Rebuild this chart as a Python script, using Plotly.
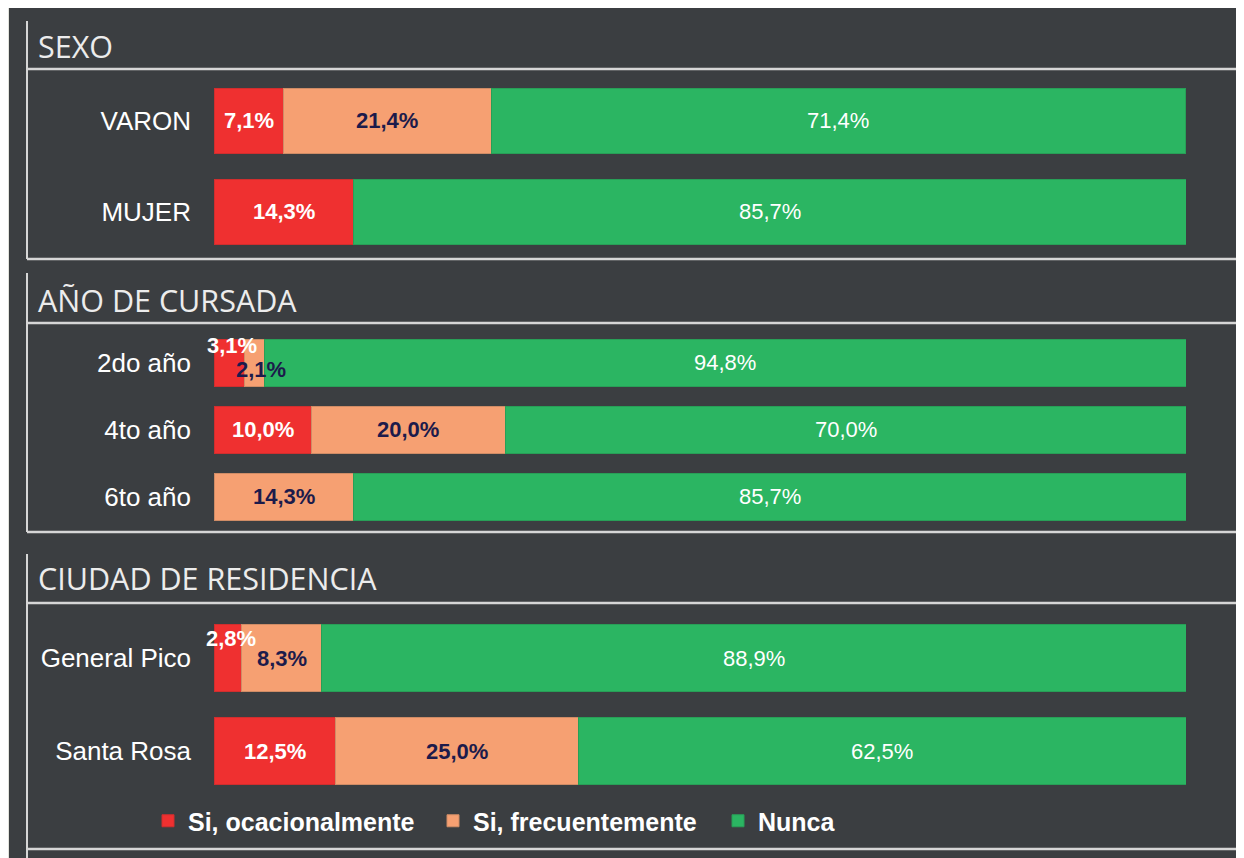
import plotly.graph_objects as go

# ---------------- data ----------------
section_titles = ["SEXO", "AÑO DE CURSADA", "CIUDAD DE RESIDENCIA"]
series_names = ["Si, ocacionalmente", "Si, frecuentemente", "Nunca"]

cat_sexo = ["VARON", "MUJER"]
ocasional_sexo = [7.1, 14.3]
frecuente_sexo = [21.4, 0.0]
nunca_sexo = [71.4, 85.7]

cat_anio = ["2do año", "4to año", "6to año"]
ocasional_anio = [3.1, 10.0, 0.0]
frecuente_anio = [2.1, 20.0, 14.3]
nunca_anio = [94.8, 70.0, 85.7]

cat_ciudad = ["General Pico", "Santa Rosa"]
ocasional_ciudad = [2.8, 12.5]
frecuente_ciudad = [8.3, 25.0]
nunca_ciudad = [88.9, 62.5]

# ---------------- style ----------------
PAGE_W, PAGE_H = 1244, 858
OFF = 8                      # default page body margin
FW, FH = PAGE_W - OFF, PAGE_H - OFF
BG = "#3b3e41"
LIGHT = "#e2e3dc"
LINE = "#d6d6d6"
colors = ["#ef3030", "#f6a072", "#2bb562"]
edge_colors = ["#d02e2e", "#cf8c66", "#289f57"]
label_colors = ["#ffffff", "#1c1b4b", "#ffffff"]
label_weights = ["bold", "bold", "normal"]

X0, X1 = 214, 1186  # page-pixel extent of 0..100 %
sec_layout = [
    dict(top=75.5, bottom=257.5, width=0.725, title_y=46.5),
    dict(top=329.5, bottom=530.5, width=0.69, title_y=299.5),
    dict(top=611.5, bottom=797.5, width=0.71, title_y=578),
]
# label nudges (pixels) for tiny segments: (section, row, series) -> (xshift, yshift)
nudges = {
    (1, 0, 0): (3, 17),
    (1, 0, 1): (7, -7),
    (2, 0, 0): (3, 20),
}

def px_x(p):
    return (p - OFF) / FW

def px_y(p):
    return 1 - (p - OFF) / FH

def fmt(v):
    return f"{v:.1f}".replace(".", ",") + "%"

sections = [
    (cat_sexo, [ocasional_sexo, frecuente_sexo, nunca_sexo]),
    (cat_anio, [ocasional_anio, frecuente_anio, nunca_anio]),
    (cat_ciudad, [ocasional_ciudad, frecuente_ciudad, nunca_ciudad]),
]

fig = go.Figure()
annotations = []

for si, (cats, vals) in enumerate(sections):
    xa = "x" if si == 0 else f"x{si + 1}"
    ya = "y" if si == 0 else f"y{si + 1}"
    lay = sec_layout[si]
    for k, name in enumerate(series_names):
        fig.add_trace(go.Bar(
            y=cats, x=vals[k], name=name, orientation="h",
            marker=dict(color=colors[k], line=dict(width=1, color=edge_colors[k])),
            width=lay["width"], xaxis=xa, yaxis=ya,
            showlegend=(si == 0), legendgroup=name, hoverinfo="skip",
        ))
    for r, c in enumerate(cats):
        cum = 0.0
        for k in range(3):
            v = vals[k][r]
            if v > 0:
                xs, ys = nudges.get((si, r, k), (0, 0))
                annotations.append(dict(
                    x=cum + v / 2, y=c, xref=xa, yref=ya, text=fmt(v),
                    showarrow=False, xanchor="center", yanchor="middle",
                    xshift=xs, yshift=ys,
                    font=dict(family="Liberation Sans, Arial, sans-serif", size=22,
                              color=label_colors[k], weight=label_weights[k]),
                ))
            cum += v
    n = len(cats)
    fig.update_layout(**{
        ("xaxis" if si == 0 else f"xaxis{si + 1}"): dict(
            domain=[px_x(X0), px_x(X1)], range=[0, 100], visible=False,
            anchor=ya, fixedrange=True),
        ("yaxis" if si == 0 else f"yaxis{si + 1}"): dict(
            domain=[px_y(lay["bottom"]), px_y(lay["top"])], type="category",
            categoryorder="array", categoryarray=cats, range=[n - 0.5, -0.5],
            anchor=xa, showgrid=False, zeroline=False, showline=False, ticks="",
            ticklabelstandoff=22,
            tickfont=dict(family="Liberation Sans, Arial, sans-serif", size=26, color="#ffffff"),
            fixedrange=True),
    })
    annotations.append(dict(
        x=px_x(36), y=px_y(lay["title_y"]), xref="paper", yref="paper",
        text=section_titles[si], showarrow=False, xanchor="left", yanchor="middle",
        font=dict(family="Open Sans, Noto Sans, sans-serif", size=30.5, color="#ececec"),
    ))

shapes = [
    dict(type="rect", xref="paper", yref="paper", x0=0, x1=px_x(9), y0=0, y1=1,
         fillcolor=LIGHT, line=dict(width=0), layer="below"),
]
for (y0, y1) in [(21, 259), (273, 532), (554, 858)]:
    shapes.append(dict(type="line", xref="paper", yref="paper",
                       x0=px_x(27), x1=px_x(27), y0=px_y(y0), y1=px_y(y1),
                       line=dict(color=LINE, width=2)))
for yy in [69, 259, 323, 532, 603, 849]:
    shapes.append(dict(type="line", xref="paper", yref="paper",
                       x0=px_x(27), x1=1, y0=px_y(yy), y1=px_y(yy),
                       line=dict(color=LINE, width=2.5)))

fig.update_layout(
    width=FW, height=FH, margin=dict(l=0, r=0, t=0, b=0),
    paper_bgcolor=BG, plot_bgcolor="rgba(0,0,0,0)",
    barmode="stack", shapes=shapes, annotations=annotations,
    legend=dict(orientation="h", x=px_x(148), y=px_y(821), xanchor="left", yanchor="middle",
                bgcolor="rgba(0,0,0,0)", entrywidth=240, entrywidthmode="pixels",
                traceorder="normal",
                font=dict(family="Liberation Sans, Arial", size=25,
                          color="#ffffff", weight="bold")),
)

fig.write_html("out.html")
